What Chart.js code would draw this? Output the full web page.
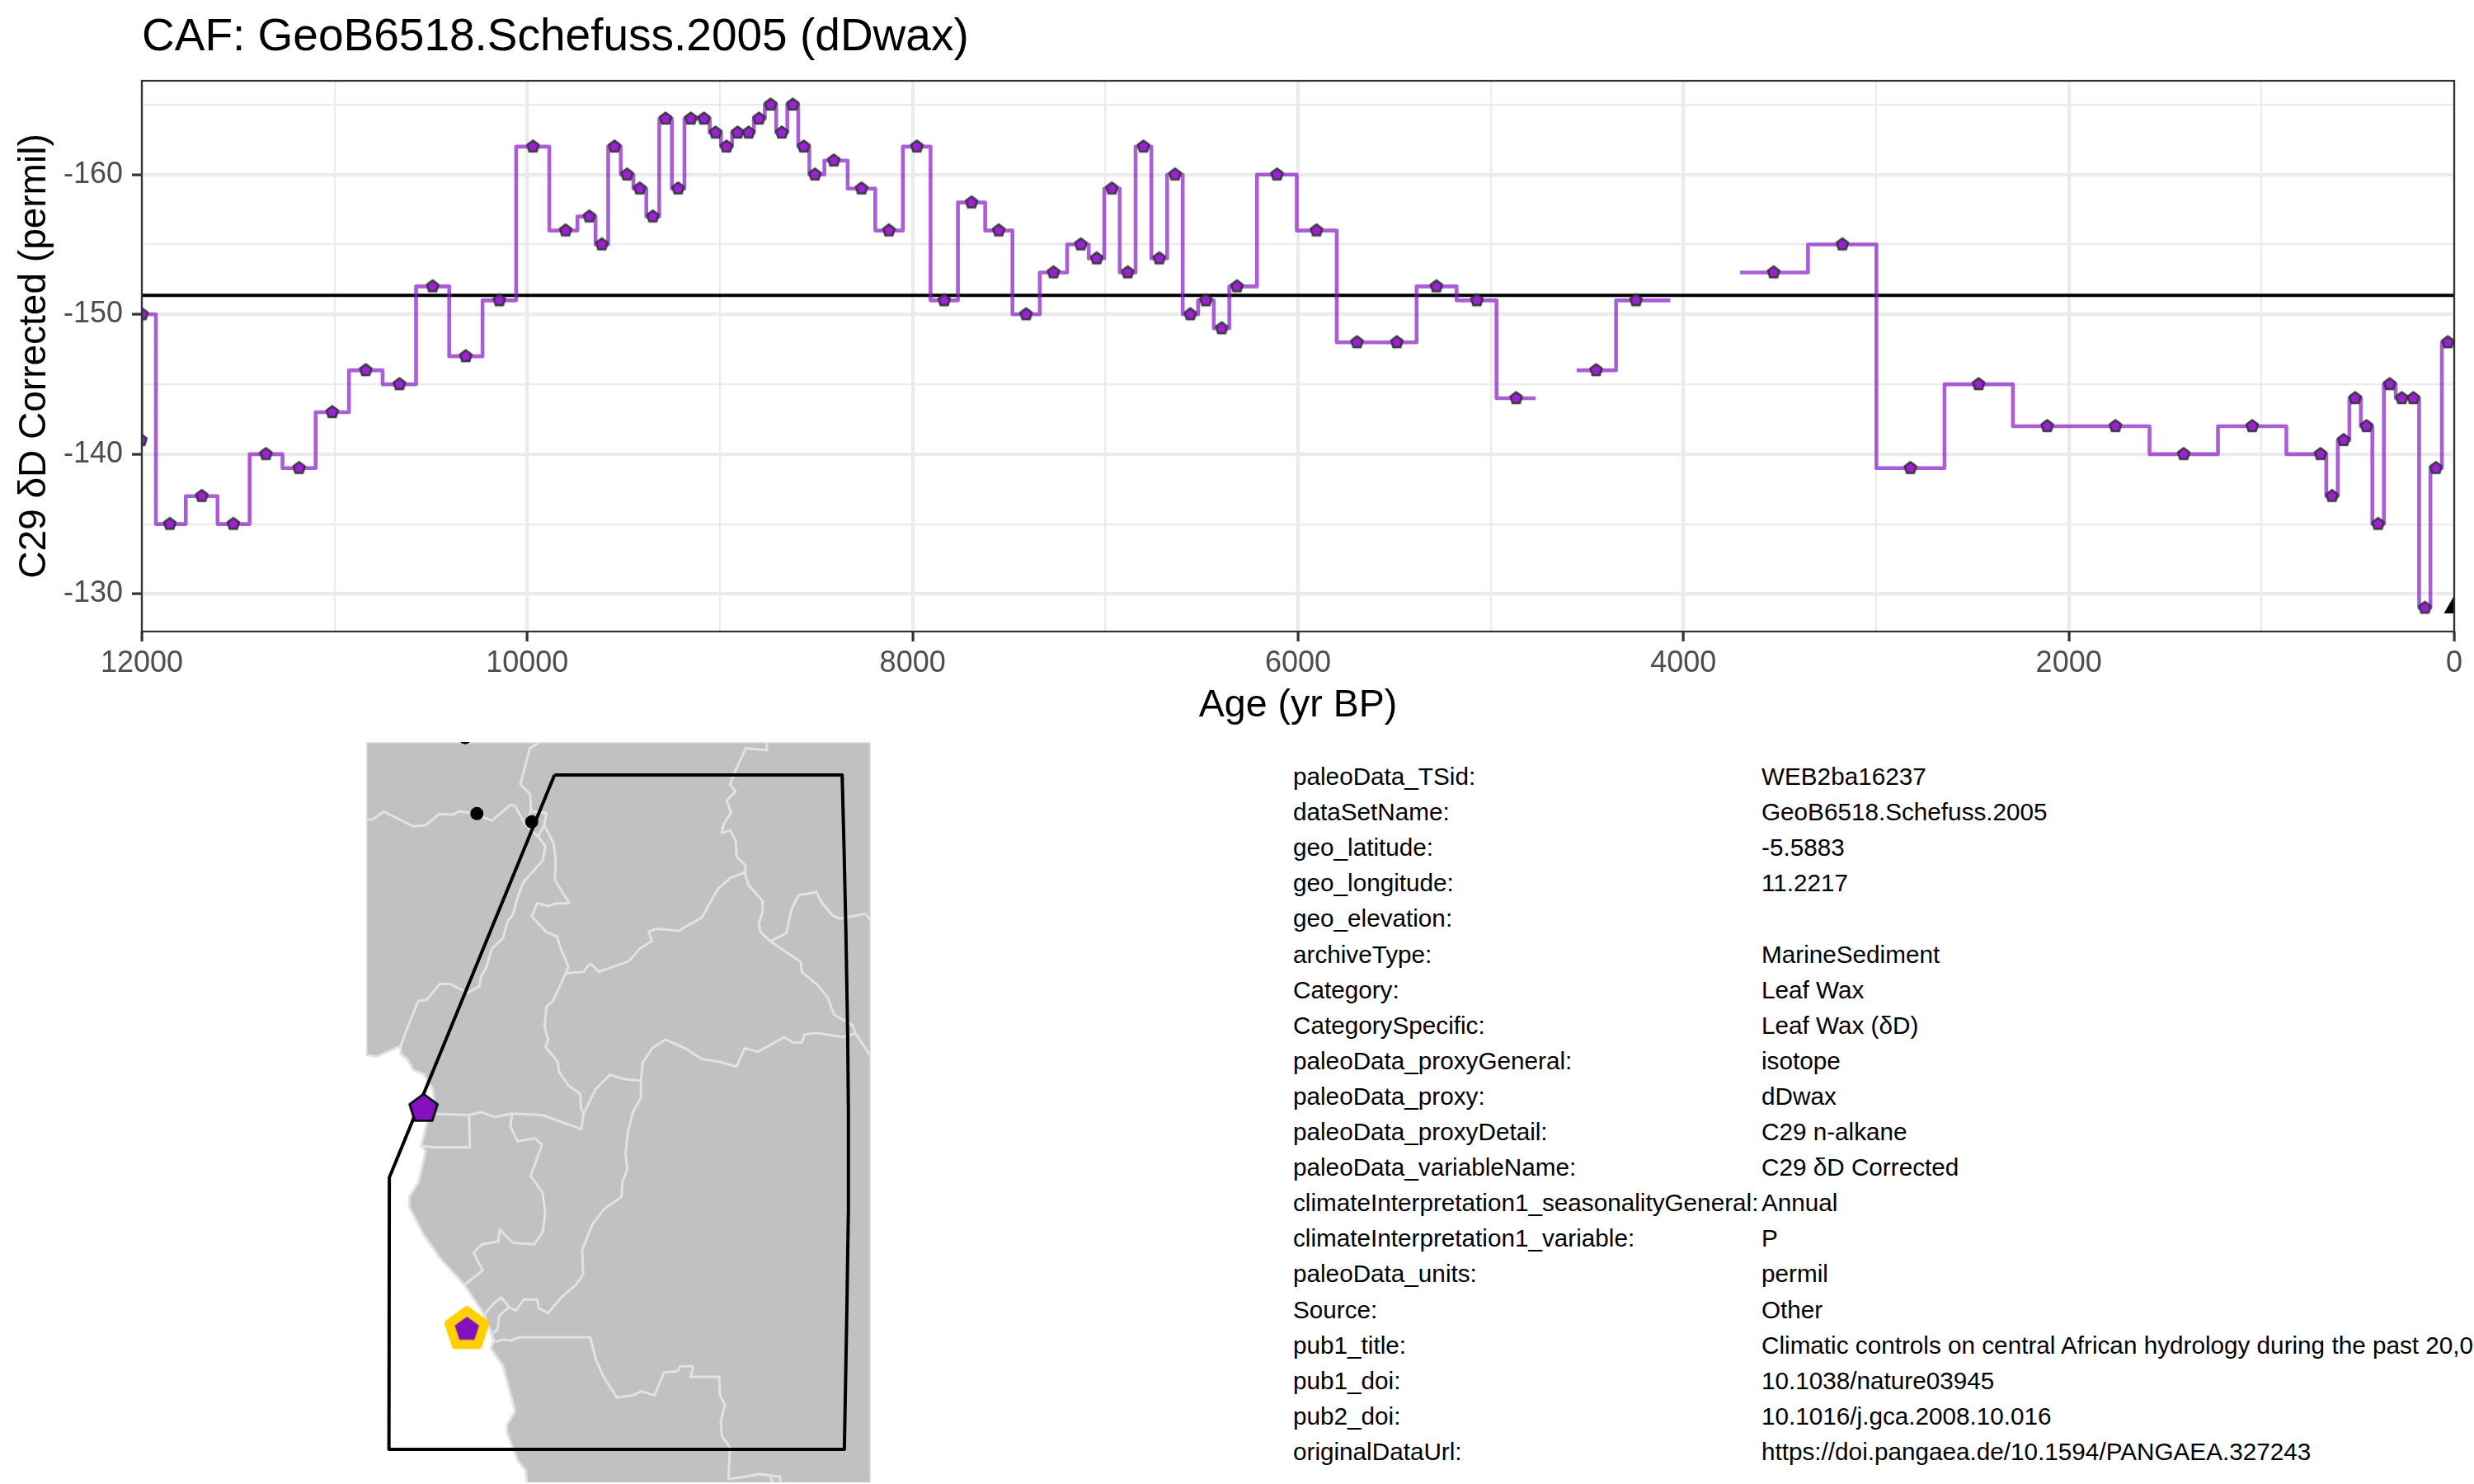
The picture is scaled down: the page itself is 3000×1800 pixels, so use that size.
<!DOCTYPE html>
<html>
<head>
<meta charset="utf-8">
<script src="https://cdn.jsdelivr.net/npm/chart.js@4/dist/chart.umd.js"></script>
<style>
html,body{margin:0;padding:0;background:#fff;width:3000px;height:1800px;overflow:hidden;font-family:"Liberation Sans",Arial,sans-serif}
canvas{position:absolute;display:block}
.meta{position:absolute;font-size:29.7px;line-height:32px;color:#000;white-space:nowrap}
</style>
</head>
<body>
<canvas id="main" width="3000" height="884" style="left:0;top:0"></canvas>
<canvas id="map" width="612" height="898" style="left:444px;top:900px"></canvas>
<div id="metaBox"></div>
<script>
const titleText = "CAF: GeoB6518.Schefuss.2005 (dDwax)";
const xTitle = "Age (yr BP)";
const yTitle = "C29 δD Corrected (permil)";
const ages = [12005,11999,11855,11689,11525,11356,11184,11012,10838,10663,10491,10319,10145,9970,9801,9678,9613,9547,9482,9416,9348,9282,9217,9151,9083,9023,8966,8908,8851,8797,8737,8679,8622,8565,8507,8409,8265,8123,7978,7836,7694,7553,7411,7269,7127,7045,6966,6884,6802,6720,6638,6559,6478,6396,6317,6109,5904,5694,5487,5282,5072,4868,4453,4246,3532,3175,2822,2468,2112,1758,1404,1048,694,634,574,514,455,395,335,272,212,152,95,33];
const values = [-141,-150,-135,-137,-135,-140,-139,-143,-146,-145,-152,-147,-151,-162,-156,-157,-155,-162,-160,-159,-157,-164,-159,-164,-164,-163,-162,-163,-163,-164,-165,-163,-165,-162,-160,-161,-159,-156,-162,-151,-158,-156,-150,-153,-155,-154,-159,-153,-162,-154,-160,-150,-151,-149,-152,-160,-156,-148,-148,-152,-151,-144,-146,-151,-153,-155,-139,-145,-142,-142,-140,-142,-140,-137,-141,-144,-142,-135,-145,-144,-144,-129,-139,-148];
const gapStartAges = [4767,4068];
const gapEndAges = [4554,3706];
const lineEndAge = 0;
const meanValue = -151.36;
const meanAges = [12000,0];
const modernAge = [4];
const modernValue = [-129];
const xTicks = [12000,11000,10000,9000,8000,7000,6000,5000,4000,3000,2000,1000,0];
const yTicks = [-165,-160,-155,-150,-145,-140,-135,-130];

const metaLabels = ["paleoData_TSid:","dataSetName:","geo_latitude:","geo_longitude:","geo_elevation:","archiveType:","Category:","CategorySpecific:","paleoData_proxyGeneral:","paleoData_proxy:","paleoData_proxyDetail:","paleoData_variableName:","climateInterpretation1_seasonalityGeneral:","climateInterpretation1_variable:","paleoData_units:","Source:","pub1_title:","pub1_doi:","pub2_doi:","originalDataUrl:"];
const metaValues = ["WEB2ba16237","GeoB6518.Schefuss.2005","-5.5883","11.2217","","MarineSediment","Leaf Wax","Leaf Wax (δD)","isotope","dDwax","C29 n-alkane","C29 δD Corrected","Annual","P","permil","Other","Climatic controls on central African hydrology during the past 20,000 years","10.1038/nature03945","10.1016/j.gca.2008.10.016","https://doi.pangaea.de/10.1594/PANGAEA.327243"];

// map outlines, in map-sheet units
const landOutline = [[98,682],[128,685],[192,663],[192,680],[210,690],[226,713],[256,722],[280,755],[285,790],[270,803],[247,870],[260,880],[240,945],[215,975],[215,995],[253,1052],[300,1103],[365,1157],[420,1220],[445,1270],[437,1288],[470,1325],[503,1418],[480,1447],[480,1460],[510,1520],[532,1540],[535,1568],[1470,1568],[1470,35],[98,35],[98,682]];
const borderLines = [
 [[98,195],[115,195],[146,179],[225,209],[260,207],[296,184],[335,185],[350,178],[385,182],[440,197],[490,165],[503,167],[530,205],[565,230],[585,250],[578,280],[525,325],[508,360],[497,392],[483,405],[470,440],[440,462],[425,500],[410,520],[406,540],[375,553],[325,535],[298,535],[262,568],[240,570],[212,622],[192,663]],
 [[570,35],[543,48],[517,122],[544,143],[546,178],[588,182],[582,207],[608,245],[613,280],[611,320],[650,368],[610,369],[592,374],[563,368],[548,395],[587,427],[617,437],[627,462],[648,500],[606,570],[588,582],[583,625],[593,650],[585,665],[618,695],[623,717],[648,745],[680,762],[682,790],[689,803],[683,835],[577,806],[495,803],[448,810],[410,800],[378,806],[270,803]],
 [[530,205],[546,178]],
 [[565,230],[582,207]],
 [[640,513],[690,510],[703,495],[712,495],[730,510],[812,488],[842,462],[875,446],[866,427],[885,421],[948,425],[1010,398],[1055,338],[1090,315],[1127,305]],
 [[1187,35],[1187,52],[1130,48],[1100,97],[1087,123],[1102,137],[1078,156],[1090,180],[1070,205],[1065,223],[1088,218],[1103,240],[1105,272],[1130,290],[1127,305],[1137,330],[1175,363],[1176,385],[1165,410],[1170,428],[1197,447],[1240,430],[1255,380],[1273,352],[1322,345],[1335,365],[1365,393],[1385,400],[1455,390],[1470,403]],
 [[1197,447],[1280,490],[1282,510],[1325,537],[1353,563],[1370,598],[1420,620],[1428,637],[1470,685]],
 [[1428,637],[1395,645],[1320,636],[1290,640],[1283,655],[1260,657],[1235,645],[1163,675],[1127,668],[1105,706],[1060,696],[1010,690],[965,668],[912,650],[877,667],[850,697],[845,735],[845,770],[823,800],[810,840],[803,885],[808,918],[795,942],[792,975],[745,1000],[713,1032],[685,1085],[688,1135],[668,1157],[632,1180],[593,1215],[567,1205],[563,1187],[527,1187],[505,1210],[487,1203],[465,1183],[445,1195],[420,1218]],
 [[845,735],[802,732],[760,723],[722,752],[689,803]],
 [[378,806],[380,873],[285,873],[247,870]],
 [[495,803],[490,830],[510,860],[556,854],[576,867],[545,932],[577,965],[585,1008],[578,1047],[555,1073],[497,1070],[461,1043],[457,1067],[413,1073],[390,1090],[415,1127],[365,1157]],
 [[487,1203],[460,1220],[455,1250],[438,1258],[445,1270]],
 [[445,1275],[470,1270],[490,1272],[515,1265],[707,1265],[722,1310],[742,1345],[780,1390],[825,1385],[845,1377],[882,1385],[908,1338],[945,1335],[952,1325],[987,1325],[980,1347],[1058,1347],[1060,1385],[1073,1405],[1062,1440],[1065,1470],[1087,1493],[1083,1558],[1130,1553],[1165,1548],[1222,1553],[1225,1565]],
 [[1197,1553],[1203,1565]]
];
const regionOutline = [[610,103],[1392,103],[1397,250],[1402,420],[1407,640],[1409,800],[1409,1000],[1405,1200],[1398,1497],[160,1497],[161,935],[610,103]];
const cityDots = [[367,26],[399,183],[548,200]];
const siteMarker = [[372,1249]];
const regionMarker = [[254,793]];

function pentagon(r, fill, stroke, lw) {
  const pad = Math.ceil(lw) + 3;
  const c = document.createElement('canvas');
  c.width = c.height = 2 * (Math.ceil(r) + pad);
  const g = c.getContext('2d');
  const cx = c.width / 2, cy = c.height / 2;
  g.beginPath();
  for (let i = 0; i < 5; i++) {
    const a = -Math.PI / 2 + i * 2 * Math.PI / 5;
    const px = cx + r * Math.cos(a), py = cy + r * Math.sin(a);
    if (i === 0) g.moveTo(px, py); else g.lineTo(px, py);
  }
  g.closePath();
  g.fillStyle = fill; g.fill();
  if (lw > 0) { g.strokeStyle = stroke; g.lineWidth = lw; g.lineJoin = 'round'; g.stroke(); }
  return c;
}

// step series with its two gaps
const stepPoints = [];
ages.forEach((a, i) => {
  stepPoints.push({x: a, y: values[i]});
  const next = ages[i + 1];
  gapStartAges.forEach((gs, k) => {
    if (next !== undefined && a > gs && next < gapEndAges[k]) {
      stepPoints.push({x: gs, y: values[i]});
      stepPoints.push({x: (gs + gapEndAges[k]) / 2, y: null});
      stepPoints.push({x: gapEndAges[k], y: values[i + 1]});
    }
  });
});
stepPoints.push({x: lineEndAge, y: values[values.length - 1]});

const frame = {
  id: 'frame',
  afterDatasetsDraw(c) {
    const a = c.chartArea, g = c.ctx;
    g.save(); g.strokeStyle = '#333'; g.lineWidth = 2.2;
    g.strokeRect(a.left, a.top, a.right - a.left, a.bottom - a.top);
    g.restore();
  }
};

const TICK = '#4D4D4D';
new Chart(document.getElementById('main'), {
  type: 'scatter',
  plugins: [frame],
  data: {
    datasets: [
      {label: 'modern', data: modernAge.map((a, i) => ({x: a, y: modernValue[i]})), pointStyle: 'triangle', pointRadius: 13.3, pointBackgroundColor: '#000', pointBorderWidth: 0, showLine: false},
      {label: 'samples', data: ages.map((a, i) => ({x: a, y: values[i]})), pointStyle: pentagon(7.4, '#9A22D0', 'rgba(50,50,55,0.9)', 2.6), pointRadius: 9, showLine: false},
      {label: 'steps', data: stepPoints, showLine: true, stepped: 'middle', borderColor: 'rgba(138,30,200,0.72)', borderWidth: 4.6, borderJoinStyle: 'round', pointRadius: 0, spanGaps: false},
      {label: 'mean', data: meanAges.map(a => ({x: a, y: meanValue})), showLine: true, borderColor: '#000', borderWidth: 4, pointRadius: 0}
    ]
  },
  options: {
    responsive: false, animation: false, devicePixelRatio: 1,
    layout: {autoPadding: false, padding: {left: 0, right: 24, top: 0, bottom: 0}},
    plugins: {
      legend: {display: false}, tooltip: {enabled: false},
      title: {display: true, text: titleText, align: 'start', fullSize: false, color: '#000',
        font: {family: '"Liberation Sans"', size: 55, weight: 'normal'}, padding: {top: 13, bottom: 19}}
    },
    scales: {
      x: {
        type: 'linear', reverse: true, min: 0, max: 12000,
        afterBuildTicks: ax => { ax.ticks = xTicks.map(v => ({value: v})); },
        afterFit: ax => { ax.height = 118; },
        ticks: {autoSkip: false, maxRotation: 0, color: TICK, padding: 5, font: {family: '"Liberation Sans"', size: 36},
          callback: v => (v % 2000 === 0 ? String(v) : '')},
        grid: {
          color: '#EBEBEB', drawTicks: true, tickLength: 12,
          lineWidth: c => (c.tick && c.tick.value % 2000 === 0 ? 4.2 : 2.2),
          tickColor: c => (c.tick && c.tick.value % 2000 === 0 ? '#333' : 'rgba(0,0,0,0)'),
          tickWidth: 3.2
        },
        border: {display: false},
        title: {display: true, text: xTitle, color: '#000', font: {family: '"Liberation Sans"', size: 46.5}, padding: {top: 0, bottom: 0}}
      },
      y: {
        type: 'linear', reverse: true, min: -166.71, max: -127.31,
        afterBuildTicks: ax => { ax.ticks = yTicks.map(v => ({value: v})); },
        afterFit: ax => { ax.width = 172; },
        ticks: {autoSkip: false, color: TICK, padding: 11, font: {family: '"Liberation Sans"', size: 36},
          callback: v => (v % 10 === 0 ? String(v) : '')},
        grid: {
          color: '#EBEBEB', tickLength: 12,
          lineWidth: c => (c.tick && c.tick.value % 10 === 0 ? 4.2 : 2.2),
          tickColor: c => (c.tick && c.tick.value % 10 === 0 ? '#333' : 'rgba(0,0,0,0)'),
          tickWidth: 3.2
        },
        border: {display: false},
        title: {display: true, text: yTitle, color: '#000', font: {family: '"Liberation Sans"', size: 46}, padding: {top: 15, bottom: 0}}
      }
    }
  }
});

const toXY = list => list.map(p => ({x: p[0], y: p[1]}));
const BORDER = '#E2E2E2';
new Chart(document.getElementById('map'), {
  type: 'scatter',
  data: {
    datasets: [
      {label: 'site halo inner', data: toXY(siteMarker), pointStyle: pentagon(15.5, '#8510C0', '#8510C0', 0), pointRadius: 20, showLine: false},
      {label: 'site halo', data: toXY(siteMarker), pointStyle: pentagon(24.5, '#FFD000', '#FFD000', 8), pointRadius: 28, showLine: false},
      {label: 'region marker', data: toXY(regionMarker), pointStyle: pentagon(18, '#8510C0', '#000', 2.6), pointRadius: 20, showLine: false},
      {label: 'region', data: toXY(regionOutline), showLine: true, borderColor: '#000', borderWidth: 4, pointRadius: 0, borderJoinStyle: 'round'},
      {label: 'cities', data: toXY(cityDots), showLine: false, pointRadius: 8, pointBackgroundColor: '#000', pointBorderWidth: 0},
      ...borderLines.map((l, i) => ({label: 'border' + i, data: toXY(l), showLine: true, borderColor: BORDER, borderWidth: 3, pointRadius: 0, borderJoinStyle: 'round'})),
      {label: 'land', data: toXY(landOutline), showLine: true, fill: 'shape', backgroundColor: '#C1C1C1', borderColor: BORDER, borderWidth: 3, pointRadius: 0, borderJoinStyle: 'round'}
    ]
  },
  options: {
    responsive: false, animation: false, devicePixelRatio: 1,
    layout: {autoPadding: false, padding: 0},
    plugins: {legend: {display: false}, tooltip: {enabled: false}, title: {display: false}},
    scales: {
      x: {type: 'linear', min: 98, max: 1470, display: false},
      y: {type: 'linear', min: 35, max: 1565, reverse: true, display: false}
    }
  }
});

const box = document.getElementById('metaBox');
metaLabels.forEach((lab, i) => {
  const top = 926 + i * 43.1;
  [[1568, lab], [2136, metaValues[i]]].forEach(([left, txt]) => {
    if (!txt) return;
    const d = document.createElement('div');
    d.className = 'meta';
    d.style.left = left + 'px';
    d.style.top = top + 'px';
    d.textContent = txt;
    box.appendChild(d);
  });
});
</script>
</body>
</html>
